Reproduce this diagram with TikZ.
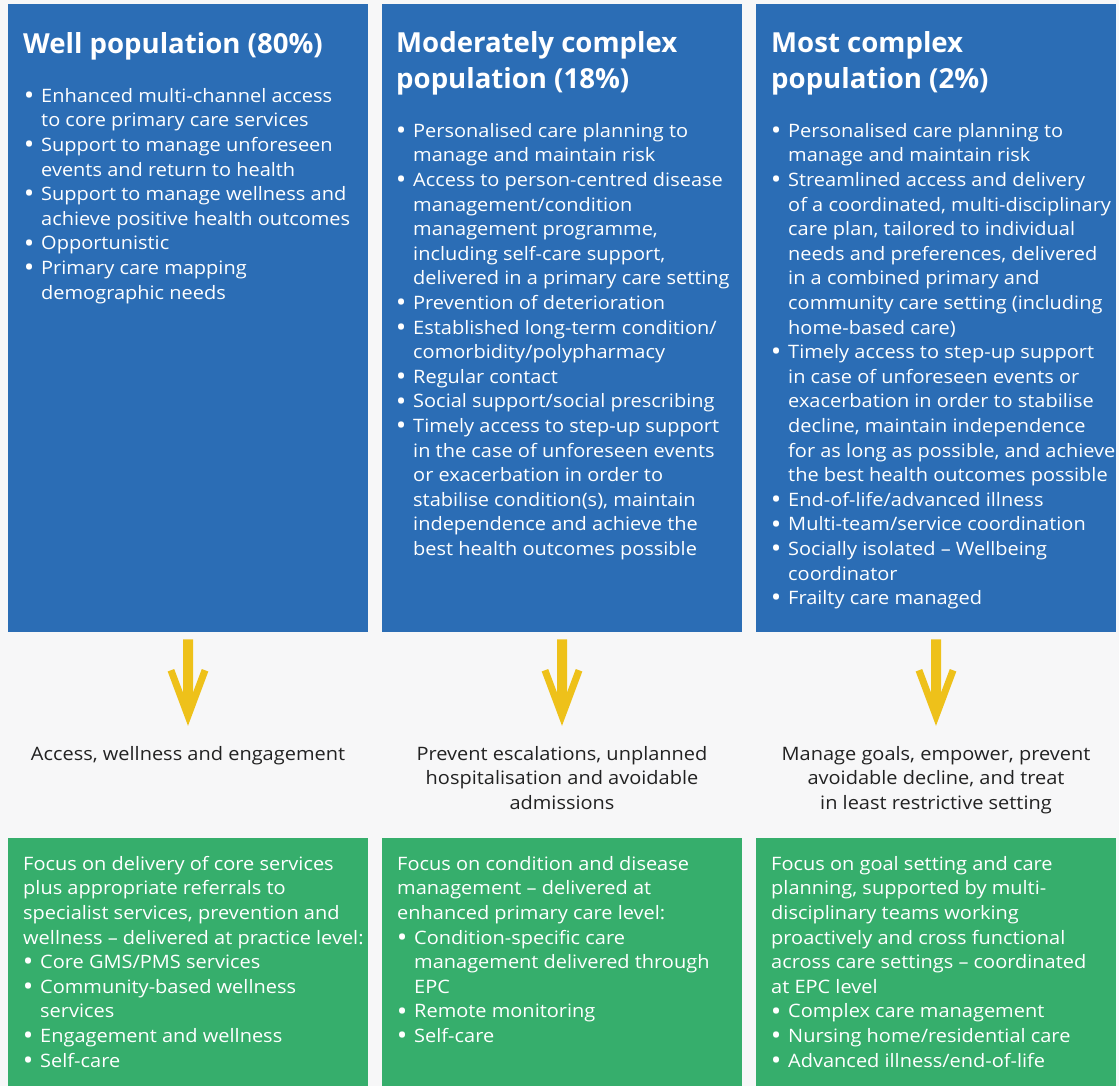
\documentclass[tikz,border=0pt]{standalone}
\usepackage{fontspec}
\setmainfont{Open Sans}
\newfontfamily\bodyfont[FakeStretch=1.08]{Open Sans}
\definecolor{bgc}{HTML}{F7F7F8}
\definecolor{blu}{HTML}{2B6DB5}
\definecolor{grn}{HTML}{36AE6C}
\definecolor{ylw}{HTML}{EEC11A}
\definecolor{dark}{HTML}{222222}
\newcommand\bu{\llap{\makebox[24pt][c]{\raisebox{-2.2pt}{\fontsize{26}{26}\selectfont •}}}}
\newcommand\gi{\hspace*{17pt}}
\tikzset{
  bluebox/.style={fill=blu, draw=none, minimum width=360pt, minimum height=628pt, anchor=north west, inner sep=0pt},
  grnbox/.style={fill=grn, draw=none, minimum width=360pt, minimum height=250pt, anchor=north west, inner sep=0pt},
  ttl/.style={anchor=north west, inner sep=0pt, align=left, text=white, font=\fontsize{27.6}{35.5}\selectfont\bfseries},
  body/.style={anchor=north west, inner sep=0pt, align=left, text=white, font=\bodyfont\fontsize{18.5}{24.6}\selectfont},
  lab/.style={anchor=north, inner sep=0pt, align=center, text=dark, font=\bodyfont\fontsize{18.5}{24.6}\selectfont},
  shaft/.style={draw=ylw, line width=10pt},
}
\begin{document}
\begin{tikzpicture}[x=1pt,y=-1pt]
\fill[bgc] (0,0) rectangle (1119,1086);
\useasboundingbox (0,0) rectangle (1119,1086);
% blue boxes
\node[bluebox] (b1) at (8,4) {};
\node[bluebox] (b2) at (382,4) {};
\node[bluebox] (b3) at (756,4) {};
% green boxes
\node[grnbox] (g1) at (8,838) {};
\node[grnbox] (g2) at (382,838) {};
\node[grnbox] (g3) at (756,838) {};
% titles
\node[ttl] (t1) at (23,28.15) {\strut Well population (80\%)};
\node[ttl] (t2) at (396,27.65) {\strut Moderately complex\\population (18\%)};
\node[ttl] (t3) at (771,27.65) {\strut Most complex\\population (2\%)};
% blue bodies
\node[body] (x1) at (41,84.8) {\strut\bu Enhanced multi-channel access\\
to core primary care services\\
\bu Support to manage unforeseen\\
events and return to health\\
\bu Support to manage wellness and\\
achieve positive health outcomes\\
\bu Opportunistic\\
\bu Primary care mapping\\
demographic needs};
\node[body] (x2) at (413,119.8) {\strut\bu Personalised care planning to\\
manage and maintain risk\\
\bu Access to person-centred disease\\
management/condition\\
management programme,\\
including self-care support,\\
delivered in a primary care setting\\
\bu Prevention of deterioration\\
\bu Established long-term condition/\\
comorbidity/polypharmacy\\
\bu Regular contact\\
\bu Social support/social prescribing\\
\bu Timely access to step-up support\\
in the case of unforeseen events\\
or exacerbation in order to\\
stabilise condition(s), maintain\\
independence and achieve the\\
best health outcomes possible};
\node[body] (x3) at (788,119.8) {\strut\bu Personalised care planning to\\
manage and maintain risk\\
\bu Streamlined access and delivery\\
of a coordinated, multi-disciplinary\\
care plan, tailored to individual\\
needs and preferences, delivered\\
in a combined primary and\\
community care setting (including\\
home-based care)\\
\bu Timely access to step-up support\\
in case of unforeseen events or\\
exacerbation in order to stabilise\\
decline, maintain independence\\
for as long as possible, and achieve\\
the best health outcomes possible\\
\bu End-of-life/advanced illness\\
\bu Multi-team/service coordination\\
\bu Socially isolated – Wellbeing\\
coordinator\\
\bu Frailty care managed};
% labels
\node[lab] (l1) at (188,742.8) {\strut Access, wellness and engagement};
\node[lab] (l2) at (562,742.8) {\strut Prevent escalations, unplanned\\hospitalisation and avoidable\\admissions};
\node[lab] (l3) at (936,742.8) {\strut Manage goals, empower, prevent\\avoidable decline, and treat\\in least restrictive setting};
% green bodies
\node[body] (y1) at (23,852.8) {\strut Focus on delivery of core services\\
plus appropriate referrals to\\
specialist services, prevention and\\
wellness – delivered at practice level:\\
\gi\bu Core GMS/PMS services\\
\gi\bu Community-based wellness\\
\gi services\\
\gi\bu Engagement and wellness\\
\gi\bu Self-care};
\node[body] (y2) at (397,852.8) {\strut Focus on condition and disease\\
management – delivered at\\
enhanced primary care level:\\
\gi\bu Condition-specific care\\
\gi management delivered through\\
\gi EPC\\
\gi\bu Remote monitoring\\
\gi\bu Self-care};
\node[body] (y3) at (771,852.8) {\strut Focus on goal setting and care\\
planning, supported by multi-\\
disciplinary teams working\\
proactively and cross functional\\
across care settings – coordinated\\
at EPC level\\
\gi\bu Complex care management\\
\gi\bu Nursing home/residential care\\
\gi\bu Advanced illness/end-of-life};
% arrows
\foreach \b/\l in {b1/l1,b2/l2,b3/l3}{
  \coordinate (s\l) at ([yshift=-7pt]\b.south);
  \coordinate (e\l) at ([yshift=17pt]\l.north);
  \draw[shaft] (s\l) -- ([yshift=20pt]e\l);
  \begin{scope}[shift={(e\l)}]
    \fill[ylw] (0,0) -- (-20.3,-54.3) -- (-13.8,-56.8) -- (0,-20) -- (13.8,-56.8) -- (20.3,-54.3) -- cycle;
  \end{scope}
}
\end{tikzpicture}
\end{document}
